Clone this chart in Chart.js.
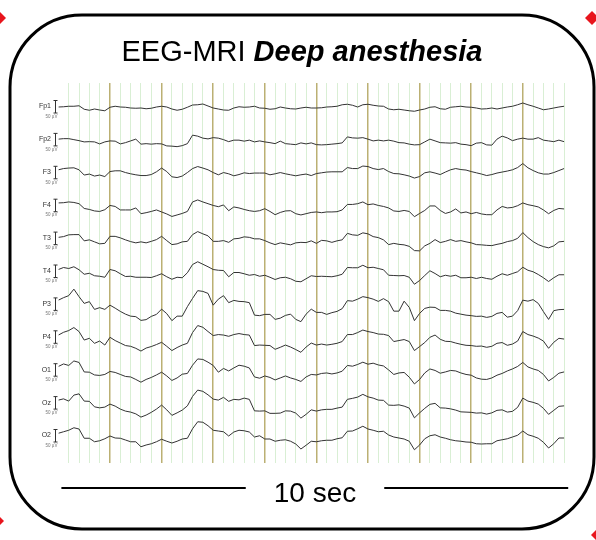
<!DOCTYPE html>
<html>
<head>
<meta charset="utf-8">
<script src="https://cdn.jsdelivr.net/npm/chart.js@4.4.1/dist/chart.umd.min.js"></script>
<style>
  html, body { margin: 0; padding: 0; background: #fff; }
  canvas { display: block; }
</style>
</head>
<body>
<canvas id="eeg" width="596" height="540"></canvas>
<script>
// EEG montage, one sample every 0.1 s, amplitudes in µV
const CHANNELS = ['Fp1', 'Fp2', 'F3', 'F4', 'T3', 'T4', 'P3', 'P4', 'O1', 'Oz', 'O2'];
const SAMPLE_STEP = 0.1;   // s
const TRACE_END = 9.88;    // s shown
const CH_STEP = 131.6;     // µV between channel baselines
const SCALE_UV = 50;       // calibration bar
const TIME_BAR_LABEL = '10 sec';

const fp1 = [4,5,7,7,9,-5,-9,-4,-8,-11, 3,7,4,3,0,-1,0,-3,-1,4, 7,4,-4,-9,-5,3,12,13,16,8, 0,-4,-8,-9,0,5,3,4,7,0, -1,-5,-3,4,0,-3,-4,0,3,0, 0,1,4,5,7,13,15,11,4,13, 15,11,8,7,-4,-7,-5,-8,-11,-13, -8,-4,3,5,-3,-5,3,5,7,4, 3,0,-4,-3,0,-4,0,4,7,13, 20,13,7,0,-7,-4,0,4,7];
const fp2 = [7,9,9,5,1,-4,-3,-4,-12,-4, 0,-1,-12,-7,0,7,-13,-11,-13,-11, -12,-20,-21,-23,-19,-11,23,19,11,8, 13,11,5,-3,3,3,-1,3,-4,0, -4,-7,-11,-1,-11,-13,-15,-8,-12,-8, -15,-16,-15,-13,-11,-8,16,12,11,13, 7,0,3,0,3,-1,-7,-8,-13,-16, -15,-4,7,0,-7,-8,-9,-7,-13,-15, -19,-9,-7,-16,-17,7,19,12,1,7, 11,7,7,13,3,0,-3,3,-3];
const f3 = [16,21,23,24,16,-5,-1,-9,-5,-11, 9,12,12,5,0,-4,-7,-7,-3,8, 23,9,-12,-15,-9,5,21,29,23,16, 5,-4,5,0,-8,-3,4,1,3,3, 3,-4,0,5,0,-4,-8,-4,-1,-7, 1,4,7,8,8,8,25,21,21,31, 29,21,17,21,9,1,0,-4,-9,-17, -11,4,8,3,-3,7,16,21,17,15, 9,4,-1,-7,-3,3,7,11,16,25, 41,24,13,4,-1,-1,5,13,21];
const f4 = [15,16,19,17,12,-7,-11,-17,-19,-12, 5,1,-13,-13,-13,-5,-28,-24,-19,-13, -21,-29,-39,-33,-27,-19,19,27,19,12, 5,0,7,-16,-1,-5,-11,-16,-19,-16, -8,-19,-32,-23,-17,-16,-28,-33,-28,-23, -21,-24,-21,-21,-20,-13,9,9,12,19, 8,11,5,1,-5,-17,-19,-15,-19,-40, -27,-15,3,3,-15,-27,-21,-9,-25,-21, -28,-23,-29,-32,-32,-13,1,-5,-3,4, 15,8,4,-1,-13,-28,-15,-7,-9];
const t3 = [9,12,19,20,20,-5,-1,-9,-17,-15, 13,13,7,-1,-8,-13,-9,-13,-7,0, 13,-4,-20,-17,-9,-7,20,32,23,15, -7,-7,-4,-11,3,5,11,9,3,3, -4,-13,-20,-13,-17,-21,-13,-11,-12,-5, -15,-3,-5,-11,-5,-1,25,19,17,27, 23,12,8,-1,-20,-15,-19,-21,-27,-44, -45,-25,-15,0,-12,-7,0,-7,-4,-9, -13,-20,-21,-23,-24,-19,-15,-8,-4,5, 28,8,-8,-20,-28,-33,-25,-9,-7];
const t4 = [12,20,16,23,11,-7,-3,-13,-15,-19, 12,7,-5,-16,-15,-19,-19,-19,-20,-13, -5,-17,-27,-19,-21,-1,32,43,33,23, 12,9,8,-17,0,0,-5,-11,-8,-15, -11,-19,-28,-21,-19,-25,-35,-37,-25,-13, -16,-15,-16,-17,-13,-7,20,19,19,29, 19,21,16,11,-11,-12,-13,-12,-19,-47, -32,-12,7,-4,-17,-11,-15,-11,-21,-21, -19,-24,-19,-24,-27,-15,-5,-11,-4,3, 21,9,3,-8,-21,-36,-21,-9,-9];
const p3 = [21,31,39,65,35,8,15,-16,-9,-16, 1,-11,-24,-35,-43,-45,-60,-57,-44,-36, -15,-33,-61,-43,-43,-5,28,59,56,48, 1,25,39,11,20,16,15,11,-39,-41, -36,-36,-56,-51,-40,-35,-56,-65,-35,-15, -28,-28,-36,-29,-24,-13,19,17,25,35, 31,25,16,27,15,-23,-23,17,-8,-61, -32,-12,-7,-8,-20,-20,-23,-31,-35,-39, -41,-44,-43,-48,-44,-32,-28,-47,-43,-21, 21,17,23,8,-25,-56,-21,-17,-16];
const p4 = [13,24,31,43,27,-7,0,-20,-11,-27, 4,-9,-19,-29,-32,-40,-51,-39,-33,-25, -16,-32,-49,-37,-27,-20,23,51,44,27, 11,15,13,8,15,19,15,13,-29,-27, -28,-29,-44,-36,-27,-35,-45,-56,-35,-19, -27,-23,-27,-24,-20,-13,15,15,23,33, 27,23,17,16,11,-13,-9,-5,-13,-49, -33,-17,4,13,-4,-12,-13,-19,-24,-28, -29,-32,-31,-36,-32,-20,-17,-28,-23,-11, 27,15,9,1,-11,-40,-16,0,-3];
const o1 = [19,29,23,41,35,-3,-4,-15,-17,-13, -1,-5,-13,-21,-23,-33,-44,-33,-25,-15, -4,-19,-37,-27,-12,-9,24,49,47,36, 23,-4,11,1,13,24,20,13,-23,-28, -19,-25,-35,-27,-19,-27,-33,-41,-23,-13, -15,-9,-7,-11,-7,0,23,20,27,36, 28,32,25,21,5,-13,-7,-5,-24,-51, -33,-7,9,3,-8,-3,3,1,-7,-13, -16,-27,-32,-33,-27,-16,-9,1,9,19, 35,17,9,3,-13,-39,-25,-8,-3];
const oz = [16,21,12,36,41,12,11,-11,-15,-12, 0,-8,-20,-28,-32,-39,-52,-44,-33,-20, -4,-23,-45,-35,-24,-7,31,56,51,37, 20,16,27,11,19,17,24,19,-27,-28, -27,-37,-37,-36,-27,-28,-36,-56,-41,-23, -28,-23,-21,-21,-16,-12,19,23,28,39, 29,24,16,15,-4,-5,-3,-8,-16,-55, -35,-17,-1,3,-15,-16,-19,-24,-31,-32, -33,-36,-35,-40,-35,-25,-23,-32,-29,-13, 24,12,7,0,-17,-41,-25,-9,-7];
const o2 = [15,21,27,37,32,-5,-5,-19,-15,-7, 4,-4,-5,-12,-19,-19,-39,-32,-27,-19, -9,-17,-24,-17,-8,-5,33,61,59,45, 27,24,21,4,20,27,25,20,0,5, -8,-8,-17,-13,-11,-17,-28,-48,-33,-17, -19,-15,-13,-13,-7,-3,23,24,33,43, 32,27,21,23,8,0,-4,-8,-17,-51, -32,-7,5,9,0,-5,-11,-15,-17,-20, -21,-27,-28,-27,-27,-15,-11,-7,0,7, 24,9,3,-5,-21,-44,-27,-4,-4];

const TRACES = [fp1, fp2, f3, f4, t3, t4, p3, p4, o1, oz, o2];

const OLIVE = '#bbb073';
const GREEN = '#d9efd4';
const FONT = '"Liberation Sans", Arial, sans-serif';

function wholeSecond(v) {
  return Math.abs(v - Math.round(v)) < 1e-6;
}

const datasets = TRACES.map((vals, ch) => ({
  label: CHANNELS[ch],
  data: vals.map((v, i) => ({ x: i * SAMPLE_STEP, y: v - ch * CH_STEP })),
  borderColor: '#333',
  borderWidth: 1,
  pointRadius: 0,
  tension: 0
}));

// frame, title, channel labels, calibration bars, time bar
const decorations = {
  id: 'decorations',
  beforeDraw(chart) {
    const c = chart.ctx;
    c.save();
    c.fillStyle = '#fff';
    c.fillRect(0, 0, chart.width, chart.height);
    c.restore();
  },
  afterDraw(chart) {
    const c = chart.ctx;
    const xs = chart.scales.x;
    const ys = chart.scales.y;
    c.save();

    // rounded frame
    c.strokeStyle = '#000';
    c.lineWidth = 3;
    c.beginPath();
    c.roundRect(10, 15, 584, 514, 72);
    c.stroke();

    // title: regular + bold italic
    const partA = 'EEG-MRI ';
    const partB = 'Deep anesthesia';
    c.fillStyle = '#000';
    c.textBaseline = 'alphabetic';
    c.font = '29px ' + FONT;
    const wA = c.measureText(partA).width;
    c.font = 'italic bold 29px ' + FONT;
    const wB = c.measureText(partB).width;
    const x0 = 302 - (wA + wB) / 2;
    c.font = '29px ' + FONT;
    c.textAlign = 'left';
    c.fillText(partA, x0, 61);
    c.font = 'italic bold 29px ' + FONT;
    c.fillText(partB, x0 + wA, 61);

    // channel names and 50 µV bars
    CHANNELS.forEach((name, ch) => {
      const base = -ch * CH_STEP;
      const yb = ys.getPixelForValue(base);
      const yTop = ys.getPixelForValue(base + SCALE_UV * 0.6);
      const yBot = ys.getPixelForValue(base - SCALE_UV * 0.4);
      c.strokeStyle = '#333';
      c.lineWidth = 1;
      c.beginPath();
      c.moveTo(55.5, yTop); c.lineTo(55.5, yBot);
      c.moveTo(53.5, yTop); c.lineTo(57.5, yTop);
      c.moveTo(53.5, yBot); c.lineTo(57.5, yBot);
      c.stroke();
      c.fillStyle = '#333';
      c.font = '7px ' + FONT;
      c.textAlign = 'right';
      c.textBaseline = 'middle';
      c.fillText(name, 51, yb - 1.5);
      c.fillStyle = '#777';
      c.font = '4.5px ' + FONT;
      c.textAlign = 'center';
      c.fillText(SCALE_UV + ' µV', 51.5, yBot + 3.5);
    });

    // 10 s time bar
    const left = xs.getPixelForValue(0) + 3;
    const right = xs.getPixelForValue(TRACE_END);
    c.font = '28px ' + FONT;
    c.textAlign = 'center';
    c.textBaseline = 'alphabetic';
    c.fillStyle = '#000';
    const tw = c.measureText(TIME_BAR_LABEL).width;
    const mid = 315;
    c.fillText(TIME_BAR_LABEL, mid, 502);
    c.strokeStyle = '#000';
    c.lineWidth = 2;
    c.beginPath();
    c.moveTo(left, 488); c.lineTo(mid - tw / 2 - 28, 488);
    c.moveTo(mid + tw / 2 + 28, 488); c.lineTo(right, 488);
    c.stroke();

    // red corner handles
    c.fillStyle = '#e8141c';
    [[-1, 18], [592, 18], [-3, 521], [598, 535]].forEach(([hx, hy]) => {
      c.beginPath();
      c.moveTo(hx, hy - 7);
      c.lineTo(hx + 7, hy);
      c.lineTo(hx, hy + 7);
      c.lineTo(hx - 7, hy);
      c.closePath();
      c.fill();
    });

    c.restore();
  }
};

new Chart(document.getElementById('eeg'), {
  type: 'line',
  data: { datasets },
  options: {
    responsive: false,
    animation: false,
    devicePixelRatio: 1,
    layout: { padding: { left: 58.4, right: 27.8, top: 83, bottom: 77 } },
    plugins: {
      legend: { display: false },
      tooltip: { enabled: false },
      title: { display: false }
    },
    scales: {
      x: {
        type: 'linear',
        min: 0,
        max: TRACE_END,
        border: { display: false },
        ticks: { display: false },
        afterBuildTicks(scale) {
          const ticks = [];
          for (let k = 1; k * 0.2 < TRACE_END; k++) ticks.push({ value: +(k * 0.2).toFixed(1) });
          scale.ticks = ticks;
        },
        afterFit(scale) { scale.height = 0; },
        grid: {
          drawTicks: false,
          color: (ctx) => ctx.tick && wholeSecond(ctx.tick.value) ? OLIVE : GREEN,
          lineWidth: (ctx) => ctx.tick && wholeSecond(ctx.tick.value) ? 1.5 : 1
        }
      },
      y: {
        type: 'linear',
        display: false,
        min: -1420,
        max: 100
      }
    }
  },
  plugins: [decorations]
});
</script>
</body>
</html>
